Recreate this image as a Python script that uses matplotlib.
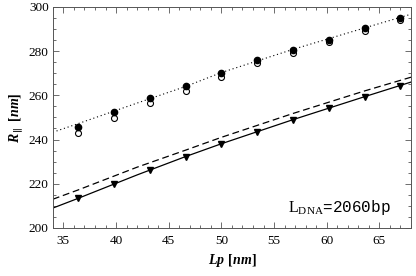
import matplotlib
matplotlib.use("Agg")
import matplotlib.pyplot as plt
from matplotlib.ticker import MultipleLocator

plt.rcParams['mathtext.fontset'] = 'custom'
plt.rcParams['mathtext.rm'] = 'Liberation Serif'
plt.rcParams['mathtext.it'] = 'Liberation Serif:italic'
plt.rcParams['mathtext.bf'] = 'Liberation Serif:bold'
plt.rcParams['mathtext.bfit'] = 'Liberation Serif:bold:italic'

# Data
lp = [36.4, 39.8, 43.2, 46.6, 50.0, 53.4, 56.8, 60.2, 63.6, 67.0]
r_filled = [245.7, 252.4, 258.8, 264.3, 270.3, 275.9, 280.4, 285.1, 290.4, 295.0]
r_open = [242.8, 249.6, 256.4, 262.1, 268.5, 274.5, 279.0, 284.2, 289.3, 294.1]
r_tri = [213.4, 220.0, 226.2, 232.3, 238.1, 243.6, 249.0, 254.4, 259.4, 264.3]

curve_x = [34, 36.4, 42, 46.6, 50, 56.8, 63.6, 68]
dotted_y = [243.3, 247.2, 256.5, 264.0, 270.3, 280.8, 290.5, 296.7]
solid_y = [209.0, 213.4, 224.0, 232.3, 238.1, 249.0, 259.4, 266.0]
dashed_y = [213.0, 217.2, 227.5, 235.2, 241.0, 251.8, 262.0, 268.2]

xticks = [35, 40, 45, 50, 55, 60, 65]
yticks = [200, 220, 240, 260, 280, 300]

fig = plt.figure(figsize=(4.16, 2.76), dpi=100)
ax = fig.add_axes([0.127, 0.174, 0.861, 0.801])

ax.plot(curve_x, dotted_y, linestyle=(0, (1, 2.5)), color='black', lw=0.8)
ax.plot(curve_x, solid_y, linestyle='-', color='black', lw=0.9)
ax.plot(curve_x, dashed_y, linestyle=(0, (5.5, 3)), color='black', lw=0.9)

ax.plot(lp, r_open, 'o', mfc='white', mec='black', mew=0.8, ms=4.3, linestyle='none')
ax.plot(lp, r_filled, 'o', color='black', ms=4.5, linestyle='none')
ax.plot(lp, r_tri, 'v', color='black', ms=5, linestyle='none')

ax.set_xlim(34, 68)
ax.set_ylim(200, 300)
ax.set_xticks(xticks)
ax.set_yticks(yticks)
ax.xaxis.set_minor_locator(MultipleLocator(1))
ax.yaxis.set_minor_locator(MultipleLocator(5))
ax.tick_params(which='both', direction='in', top=True, right=True, color='#555555', width=0.6)
ax.tick_params(which='major', length=4, labelsize=9.5, pad=3)
ax.tick_params(which='minor', length=2)
ax.tick_params(axis='x', which='major', pad=5)
for lab in ax.get_xticklabels() + ax.get_yticklabels():
    lab.set_fontfamily('Liberation Serif')
for s in ax.spines.values():
    s.set_color('#555555')
    s.set_linewidth(0.7)

ax.set_xlabel(r'$\mathbfit{Lp}$ $\mathbf{[}\mathbfit{nm}\mathbf{]}$', fontsize=10, labelpad=4)
ax.set_ylabel(r'$\mathbfit{R}_{\mathbf{\parallel}}$ $\mathbf{[}\mathbfit{nm}\mathbf{]}$', fontsize=10, labelpad=3)

ax.text(0.656, 0.072, r'$\mathrm{L}_{\mathrm{DNA}}$=2060bp', transform=ax.transAxes,
        fontsize=11.5, family='Liberation Mono', ha='left', va='baseline')

fig.savefig('out.png', dpi=100)
